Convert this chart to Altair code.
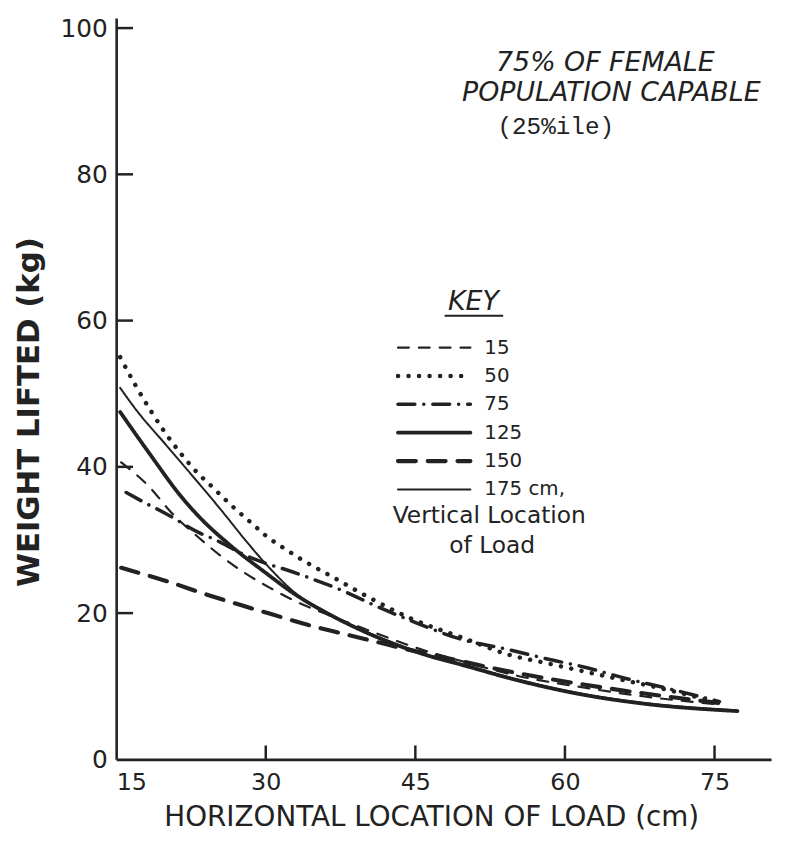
import altair as alt
import pandas as pd

INK = "#222222"
FONT = "DejaVu Sans"

# ---------------- data ----------------
series_names = ["15", "50", "75", "125", "150", "175"]
key_labels = ["15", "50", "75", "125", "150", "175 cm,"]

x_15 = [15.5, 18.3, 20.5, 23.3, 25.7, 28.0, 30.5, 33.0, 36.0, 40.0, 45.0, 50.0, 55.0, 62.0, 68.0, 75.5]
y_15 = [40.6, 37.3, 33.8, 30.3, 27.6, 25.4, 23.4, 21.6, 19.9, 17.8, 15.3, 13.3, 11.5, 9.8, 8.6, 7.5]

x_50 = [15.4, 17.0, 18.5, 20.0, 21.5, 23.0, 24.6, 26.5, 28.5, 30.0, 31.9, 34.0, 36.5, 40.0, 44.5, 49.8, 54.4, 58.0, 62.0, 66.0, 70.0, 75.3]
y_50 = [55.0, 51.0, 47.6, 44.5, 41.8, 39.4, 37.3, 34.8, 32.4, 30.6, 28.8, 27.0, 25.1, 22.4, 19.3, 16.6, 14.3, 13.2, 12.0, 10.8, 9.6, 7.8]

x_75 = [16.0, 18.0, 20.0, 23.3, 25.0, 27.5, 30.0, 31.9, 35.0, 38.0, 41.0, 44.5, 49.4, 54.4, 58.0, 62.0, 66.0, 70.0, 75.5]
y_75 = [36.5, 35.0, 33.6, 31.0, 30.0, 28.2, 26.8, 26.0, 24.5, 22.9, 21.0, 19.0, 16.5, 15.0, 13.8, 12.6, 11.1, 9.8, 7.9]

x_125 = [15.4, 18.3, 21.6, 23.3, 26.5, 29.9, 32.9, 36.0, 40.0, 46.0, 50.0, 55.0, 62.0, 68.0, 77.3]
y_125 = [47.5, 41.9, 35.8, 33.2, 29.2, 25.6, 22.6, 20.1, 17.4, 14.3, 12.8, 10.9, 8.8, 7.6, 6.6]

x_150 = [15.5, 20.0, 24.6, 27.5, 30.7, 34.2, 37.7, 41.0, 44.0, 48.4, 52.0, 56.0, 62.0, 68.0, 75.5]
y_150 = [26.2, 24.4, 22.3, 21.1, 19.8, 18.4, 17.2, 16.1, 15.1, 13.8, 12.7, 11.6, 10.2, 9.0, 7.7]

x_175 = [15.4, 17.0, 20.0, 22.0, 24.0, 26.0, 28.0, 30.5, 33.0, 36.0, 40.0, 46.0, 50.0, 55.0, 62.0, 68.0, 77.3]
y_175 = [50.8, 47.8, 43.0, 39.8, 36.6, 33.3, 29.9, 26.0, 22.7, 20.2, 17.5, 14.4, 12.9, 11.0, 8.9, 7.7, 6.7]

x_ticks = [15, 30, 45, 60, 75]
y_ticks = [0, 20, 40, 60, 80, 100]

title_lines = ["75% OF FEMALE", "POPULATION CAPABLE", "(25%ile)"]
x_title = "HORIZONTAL LOCATION OF LOAD (cm)"
y_title = "WEIGHT LIFTED (kg)"
key_title = "KEY"
key_note = ["Vertical Location", "of Load"]

# ---------------- build table ----------------
all_x = [x_15, x_50, x_75, x_125, x_150, x_175]
all_y = [y_15, y_50, y_75, y_125, y_150, y_175]
rows = []
for name, xs_, ys_ in zip(series_names, all_x, all_y):
    for i, (a, b) in enumerate(zip(xs_, ys_)):
        rows.append({"series": name, "x": a, "y": b, "order": i})
df = pd.DataFrame(rows)
key_df = pd.DataFrame({"series": series_names, "label": key_labels})

# ---------------- scales / axes ----------------
W, H = 660, 747
xs = alt.Scale(domain=[15, 80.67], nice=False, zero=False)
ys = alt.Scale(domain=[0, 101.36], nice=False, zero=False)
x_axis = alt.Axis(values=x_ticks, title=None, ticks=False, grid=False, labelPadding=11,
                  domainWidth=2.6, domainColor=INK, labelFont=FONT, labelFontSize=24,
                  labelColor=INK)
y_axis = alt.Axis(values=y_ticks, title=None, ticks=False, grid=False, labelPadding=9,
                  domainWidth=2.6, domainColor=INK, labelFont=FONT, labelFontSize=25,
                  labelColor=INK)
dash_scale = alt.Scale(type="ordinal", domain=series_names,
                       range=[[11, 10], [0.1, 10.5], [17, 9, 0.1, 9], [1, 0], [18, 12], [1, 0]])
width_scale = alt.Scale(type="ordinal", domain=series_names,
                        range=[2.2, 4.5, 3.5, 3.8, 4.2, 2.0])

lines = alt.Chart(df).mark_line(interpolate="monotone", color=INK, strokeCap="round").encode(
    x=alt.X("x:Q", scale=xs, axis=x_axis),
    y=alt.Y("y:Q", scale=ys, axis=y_axis),
    strokeDash=alt.StrokeDash("series:N", scale=dash_scale, legend=None),
    strokeWidth=alt.StrokeWidth("series:N", scale=width_scale, legend=None),
    order="order:Q",
)

ytick = alt.Chart(pd.DataFrame({"v": y_ticks[1:]})).mark_rule(color=INK, strokeWidth=2.5).encode(
    y=alt.Y("v:Q", scale=ys, axis=None), x=alt.value(0), x2=alt.value(17))
xtick = alt.Chart(pd.DataFrame({"v": x_ticks[1:]})).mark_rule(color=INK, strokeWidth=2.5).encode(
    x=alt.X("v:Q", scale=xs, axis=x_axis), y=alt.value(H - 14), y2=alt.value(H))

key_y = alt.Y("series:N", sort=series_names,
              scale=alt.Scale(type="point", domain=series_names, range=[332, 475], padding=0),
              axis=None)
key_lines = alt.Chart(key_df).mark_rule(color=INK, strokeCap="round").encode(
    y=key_y, x=alt.value(284), x2=alt.value(357),
    strokeDash=alt.StrokeDash("series:N", scale=dash_scale, legend=None),
    strokeWidth=alt.StrokeWidth("series:N", scale=width_scale, legend=None),
)
key_text = alt.Chart(key_df).mark_text(align="left", baseline="middle", fontSize=20,
                                       color=INK, font=FONT).encode(
    y=key_y, x=alt.value(371), text="label:N")


def note(txt, x, y, size, **kw):
    return alt.Chart(pd.DataFrame({"t": [txt]})).mark_text(
        fontSize=size, color=INK, baseline="middle", align="center", **kw
    ).encode(x=alt.value(x), y=alt.value(y), text="t:N")


notes = [
    note(title_lines[0], 493, 45, 27, fontStyle="italic", font=FONT),
    note(title_lines[1], 499, 76, 27, fontStyle="italic", font=FONT),
    note(title_lines[2], 443, 110, 24.5, font="Liberation Mono"),
    note(x_title, 318, 806, 28, font=FONT),
    note(y_title, -87, 397, 31, font=FONT, angle=270, fontWeight="bold"),
    note(key_title, 360, 286, 27, fontStyle="italic", font=FONT),
    note(key_note[0], 376, 502, 23.5, font=FONT),
    note(key_note[1], 379, 532, 23.5, font=FONT),
]
underline = alt.Chart(pd.DataFrame({"t": [key_title]})).mark_rule(color=INK, strokeWidth=2).encode(
    x=alt.value(331), x2=alt.value(390), y=alt.value(300))

chart = alt.layer(lines, ytick, xtick, key_lines, key_text, underline, *notes).resolve_scale(
    y="independent"
).properties(
    width=W, height=H,
    autosize=alt.AutoSizeParams(type="none"),
    padding={"left": 109, "top": 7, "right": 10, "bottom": 72},
    background="white",
).configure_view(stroke=None)

chart.save("out.html", embed_options={"renderer": "svg", "actions": False})
